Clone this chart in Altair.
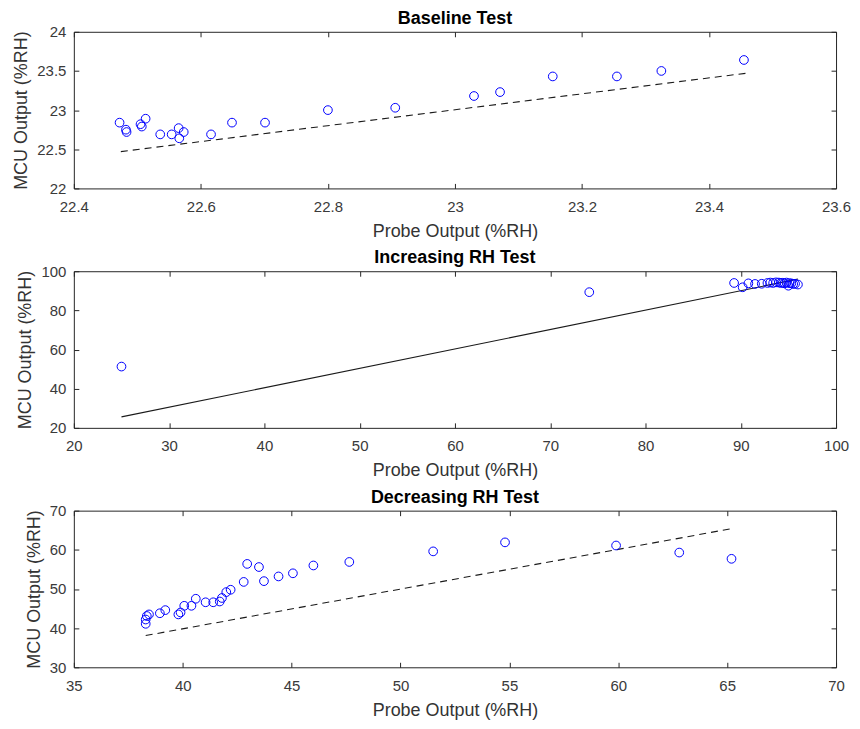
import altair as alt
import pandas as pd

# ---------------- data ----------------
# Baseline Test
base_probe = [22.472, 22.482, 22.483, 22.505, 22.507, 22.513, 22.536, 22.554, 22.565,
              22.566, 22.573, 22.616, 22.649, 22.701, 22.800, 22.906, 23.030, 23.071,
              23.154, 23.255, 23.325, 23.455]
base_mcu = [22.84, 22.75, 22.72, 22.82, 22.79, 22.89, 22.69, 22.69, 22.77,
            22.64, 22.72, 22.69, 22.84, 22.84, 23.00, 23.03, 23.18, 23.23,
            23.43, 23.43, 23.50, 23.64]
base_line_x = [22.474, 23.458]
base_line_y = [22.470, 23.470]

# Increasing RH Test
inc_probe = [25.0, 74.1, 89.3, 90.2, 90.8, 91.5, 92.2, 92.8, 93.1, 93.4, 93.7, 94.0,
             94.2, 94.4, 94.6, 94.8, 95.0, 95.1, 95.3, 95.5, 95.7, 96.0]
inc_mcu = [51.3, 89.3, 94.0, 91.8, 93.8, 93.5, 93.6, 94.0, 94.2, 94.0, 94.3, 94.2,
           94.0, 94.1, 93.8, 94.2, 92.6, 93.9, 93.8, 93.5, 93.6, 93.2]
inc_line_x = [25.0, 96.0]
inc_line_y = [25.6, 96.0]

# Decreasing RH Test
dec_probe = [38.3, 38.3, 38.35, 38.45, 38.95, 39.2, 39.8, 39.9, 40.07, 40.4, 40.6,
             41.05, 41.4, 41.7, 41.8, 42.0, 42.2, 42.8, 42.96, 43.5, 43.73, 44.4,
             45.06, 46.0, 47.65, 51.5, 54.8, 59.9, 62.8, 65.2]
dec_mcu = [42.2, 41.1, 43.1, 43.5, 43.8, 44.6, 43.5, 44.0, 45.7, 45.7, 47.5,
           46.6, 46.6, 46.8, 47.7, 49.2, 49.8, 51.8, 56.4, 55.6, 52.0, 53.2,
           54.0, 56.0, 56.9, 59.6, 61.9, 61.1, 59.3, 57.7]
dec_line_x = [38.3, 65.3]
dec_line_y = [38.1, 65.5]

titles = ["Baseline Test", "Increasing RH Test", "Decreasing RH Test"]
x_title = "Probe Output (%RH)"
y_title = "MCU Output (%RH)"

base_xticks = [22.4, 22.6, 22.8, 23.0, 23.2, 23.4, 23.6]
base_yticks = [22, 22.5, 23, 23.5, 24]
inc_xticks = [20, 30, 40, 50, 60, 70, 80, 90, 100]
inc_yticks = [20, 40, 60, 80, 100]
dec_xticks = [35, 40, 45, 50, 55, 60, 65, 70]
dec_yticks = [30, 40, 50, 60, 70]

FONT = "Liberation Sans, Arial, Helvetica, sans-serif"
AX = "#262626"
W, H = 764, 157
LABEL_EXPR = "format(datum.value, '~g')"


def panel(px, py, lx, ly, title, xdom, ydom, xt, yt, dashed):
    pts = pd.DataFrame({"probe": px, "mcu": py})
    ln = pd.DataFrame({"probe": lx, "mcu": ly})
    xs = alt.Scale(domain=xdom, nice=False, zero=False)
    ys = alt.Scale(domain=ydom, nice=False, zero=False)
    tick_common = dict(tickSize=5, offset=-5, domain=False, tickColor=AX,
                       tickWidth=1, grid=False)
    text_common = dict(labelFont=FONT, labelFontSize=15, labelColor="#3a3a3a",
                       titleFont=FONT, titleFontSize=18, titleFontWeight="normal",
                       titleColor="#333333", labelExpr=LABEL_EXPR, labelFlush=False,
                       labelOverlap=False)
    line_kwargs = dict(color="#1a1a1a", strokeWidth=1.1)
    if dashed:
        line_kwargs["strokeDash"] = [7, 5]
    line = alt.Chart(ln).mark_line(**line_kwargs).encode(
        x=alt.X("probe:Q", scale=xs,
                axis=alt.Axis(orient="top", values=xt, labels=False, title=None, **tick_common)),
        y=alt.Y("mcu:Q", scale=ys,
                axis=alt.Axis(orient="right", values=yt, labels=False, title=None, **tick_common)),
    )
    points = alt.Chart(pts).mark_point(shape="circle", size=76, color="#0000ff",
                                       strokeWidth=1, filled=False, opacity=1).encode(
        x=alt.X("probe:Q", scale=xs,
                axis=alt.Axis(orient="bottom", values=xt, title=x_title,
                              labelPadding=11, titlePadding=8, **tick_common, **text_common)),
        y=alt.Y("mcu:Q", scale=ys,
                axis=alt.Axis(orient="left", values=yt, title=y_title,
                              labelPadding=8, titlePadding=6, **tick_common, **text_common)),
    )
    return alt.layer(line, points).resolve_axis(x="independent", y="independent").properties(
        width=W, height=H,
        title=alt.TitleParams(title, font=FONT, fontSize=18, fontWeight="bold",
                              color="#000000", offset=-3, anchor="middle"),
    )


p1 = panel(base_probe, base_mcu, base_line_x, base_line_y, titles[0],
           [22.4, 23.6], [22, 24], base_xticks, base_yticks, True)
p2 = panel(inc_probe, inc_mcu, inc_line_x, inc_line_y, titles[1],
           [20, 100], [20, 100], inc_xticks, inc_yticks, False)
p3 = panel(dec_probe, dec_mcu, dec_line_x, dec_line_y, titles[2],
           [35, 70], [30, 70], dec_xticks, dec_yticks, True)

chart = alt.vconcat(p1, p2, p3, spacing=7).properties(
    padding={"left": 4, "top": 0, "right": 0, "bottom": 0},
    background="white",
).configure_view(stroke=AX, strokeWidth=1)

chart.save("out.html", embed_options={"renderer": "svg", "actions": False})
